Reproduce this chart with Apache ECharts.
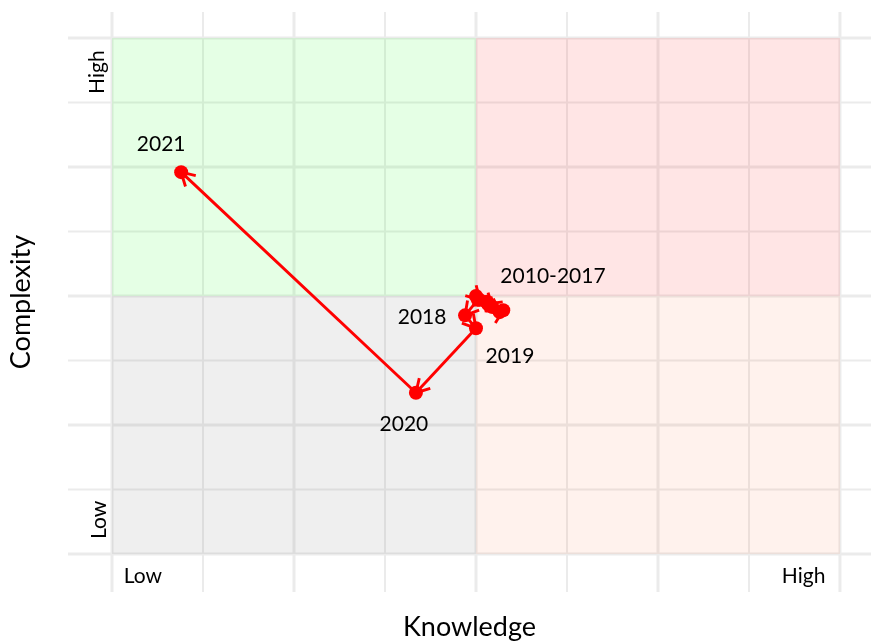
<!DOCTYPE html>
<html>
<head>
<meta charset="utf-8">
<script src="https://cdn.jsdelivr.net/npm/echarts@6/dist/echarts.min.js"></script>
<style>html,body{margin:0;padding:0;background:#fff;}#c{width:871px;height:644px;}</style>
</head>
<body>
<div id="c"></div>
<script>
// ---- data ----
const years = ['2010','2011','2012','2013','2014','2015','2016','2017','2018','2019','2020','2021'];
const knowledge = [4.00, 4.04, 4.12, 4.18, 4.26, 4.30, 4.13, 4.02, 3.88, 4.00, 3.34, 0.76];
const complexity = [4.00, 3.94, 3.91, 3.83, 3.75, 3.78, 3.88, 3.94, 3.70, 3.50, 2.50, 5.92];
const pointLabels = ['2010-2017','','','','','','','','2018','2019','2020','2021'];
const xTickLabels = ['Low', 'High'];
const yTickLabels = ['Low', 'High'];
const majorBreaks = [0, 2, 4, 6, 8];
const minorBreaks = [1, 3, 5, 7];
const xAxisTitle = 'Knowledge';
const yAxisTitle = 'Complexity';

// ---- layout / style ----
const X_MIN = -0.4835, X_MAX = 8.341;
const Y_MIN = -0.589, Y_MAX = 8.403;
const FONT = 'Lato';
const quadrants = [
  {x0: 0, y0: 4, x1: 4, y1: 8, color: 'rgba(0,255,0,0.10)'},
  {x0: 4, y0: 4, x1: 8, y1: 8, color: 'rgba(255,0,0,0.10)'},
  {x0: 0, y0: 0, x1: 4, y1: 4, color: 'rgba(120,120,120,0.12)'},
  {x0: 4, y0: 0, x1: 8, y1: 4, color: 'rgba(255,110,60,0.09)'}
];
const labelOffsets = {
  '2010-2017': [77, -20],
  '2018': [-43, 2],
  '2019': [34, 28],
  '2020': [-12, 31],
  '2021': [-20, -28]
};

const gridData = [];
majorBreaks.forEach(v => { gridData.push([v, 0, 'x', 3]); gridData.push([v, 0, 'y', 3]); });
minorBreaks.forEach(v => { gridData.push([v, 0, 'x', 2]); gridData.push([v, 0, 'y', 2]); });

const segments = [];
for (let i = 1; i < years.length; i++) {
  segments.push([knowledge[i-1], complexity[i-1], knowledge[i], complexity[i]]);
}

const pointData = years.map((y, i) => {
  const lbl = pointLabels[i];
  const item = {value: [knowledge[i], complexity[i]], name: y};
  if (lbl) {
    item.label = {show: true, formatter: lbl, position: 'inside', offset: labelOffsets[lbl], color: '#000'};
  }
  return item;
});

const tickData = [
  {value: [0.34, -0.34], label: {formatter: xTickLabels[0], rotate: 0, color: '#000'}},
  {value: [7.60, -0.34], label: {formatter: xTickLabels[1], rotate: 0, color: '#000'}},
  {value: [-0.14, 0.53], label: {formatter: yTickLabels[0], rotate: 90, color: '#000'}},
  {value: [-0.165, 7.47], label: {formatter: yTickLabels[1], rotate: 90, color: '#000'}}
];

const chart = echarts.init(document.getElementById('c'), null, {renderer: 'canvas'});
chart.setOption({
  animation: false,
  backgroundColor: '#ffffff',
  grid: {left: 68, right: 0, top: 12, bottom: 52, containLabel: false, outerBoundsMode: 'none'},
  xAxis: {
    type: 'value', min: X_MIN, max: X_MAX,
    axisLine: {show: false}, axisTick: {show: false}, axisLabel: {show: false}, splitLine: {show: false},
    name: xAxisTitle, nameLocation: 'middle', nameGap: 22,
    nameTextStyle: {fontFamily: FONT, fontSize: 27, color: '#000'}
  },
  yAxis: {
    type: 'value', min: Y_MIN, max: Y_MAX,
    axisLine: {show: false}, axisTick: {show: false}, axisLabel: {show: false}, splitLine: {show: false},
    name: yAxisTitle, nameLocation: 'middle', nameGap: 33, nameRotate: 90,
    nameTextStyle: {fontFamily: FONT, fontSize: 27, color: '#000'}
  },
  series: [
    {
      type: 'custom', z: 1, silent: true, clip: false,
      data: gridData,
      renderItem: function (params, api) {
        const v = api.value(0), dir = api.value(2), w = api.value(3);
        let p0, p1;
        if (dir === 'x') { p0 = api.coord([v, Y_MIN]); p1 = api.coord([v, Y_MAX]); }
        else { p0 = api.coord([X_MIN, v]); p1 = api.coord([X_MAX, v]); }
        return {type: 'line', shape: {x1: p0[0], y1: p0[1], x2: p1[0], y2: p1[1]},
                style: {stroke: '#ebebeb', lineWidth: w}};
      }
    },
    {
      type: 'custom', z: 2, silent: true,
      data: quadrants.map(q => [q.x0, q.y0, q.x1, q.y1]),
      renderItem: function (params, api) {
        const a = api.coord([api.value(0), api.value(1)]);
        const b = api.coord([api.value(2), api.value(3)]);
        return {type: 'rect',
          shape: {x: Math.min(a[0], b[0]), y: Math.min(a[1], b[1]), width: Math.abs(b[0]-a[0]), height: Math.abs(b[1]-a[1])},
          style: {fill: quadrants[params.dataIndex].color}};
      }
    },
    {
      type: 'custom', z: 3, silent: true,
      data: segments,
      renderItem: function (params, api) {
        const a = api.coord([api.value(0), api.value(1)]);
        const b = api.coord([api.value(2), api.value(3)]);
        const th = Math.atan2(b[1]-a[1], b[0]-a[0]);
        const L = 15, ang = Math.PI / 6;
        const h1 = [b[0] - L*Math.cos(th - ang), b[1] - L*Math.sin(th - ang)];
        const h2 = [b[0] - L*Math.cos(th + ang), b[1] - L*Math.sin(th + ang)];
        const st = {stroke: '#ff0000', lineWidth: 2.9, fill: null, lineCap: 'butt', lineJoin: 'miter'};
        return {type: 'group', children: [
          {type: 'line', shape: {x1: a[0], y1: a[1], x2: b[0], y2: b[1]}, style: st},
          {type: 'polyline', shape: {points: [h1, b, h2]}, style: st}
        ]};
      }
    },
    {
      type: 'scatter', z: 4, silent: true,
      symbol: 'circle', symbolSize: 14,
      itemStyle: {color: '#ff0000', opacity: 1},
      label: {show: false, fontFamily: FONT, fontSize: 21, color: '#000'},
      data: pointData
    },
    {
      type: 'scatter', z: 5, silent: true,
      symbolSize: 0,
      itemStyle: {opacity: 1, color: '#000'},
      label: {show: true, position: 'inside', fontFamily: FONT, fontSize: 21, color: '#000'},
      data: tickData
    }
  ]
});
</script>
</body>
</html>
